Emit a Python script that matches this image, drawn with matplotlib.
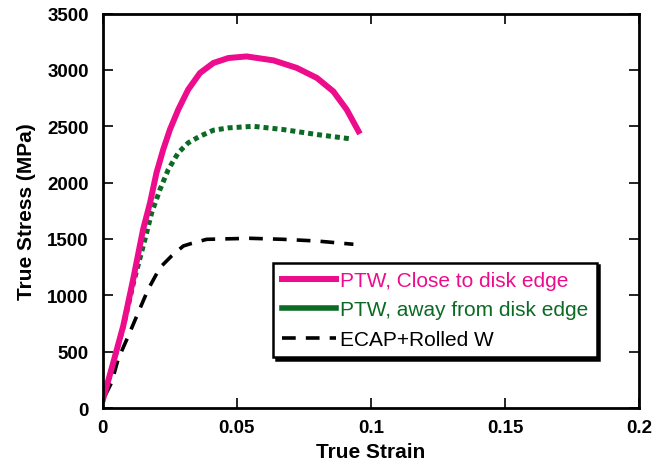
import matplotlib.pyplot as plt
from matplotlib.lines import Line2D

plt.rcParams['font.family'] = ['Liberation Sans', 'DejaVu Sans']

# 曲线数据
strain_edge = [0.0002, 0.004, 0.0077, 0.0114, 0.0151, 0.0177, 0.0201, 0.0226, 0.0251, 0.0282,
               0.0319, 0.0363, 0.0413, 0.0469, 0.0537, 0.0637, 0.0724, 0.0799, 0.086, 0.091, 0.0954]
stress_edge = [80, 405, 729, 1143, 1585, 1822, 2088, 2294, 2471, 2648,
               2826, 2973, 3062, 3106, 3120, 3085, 3018, 2929, 2810, 2648, 2456]

strain_away = [0.0002, 0.004, 0.0077, 0.0116, 0.0158, 0.0183, 0.0214, 0.0245, 0.0282,
               0.0319, 0.0363, 0.0413, 0.0469, 0.0562, 0.0674, 0.0799, 0.0923]
stress_away = [80, 400, 720, 1120, 1497, 1733, 1940, 2117, 2265,
               2353, 2412, 2465, 2486, 2500, 2471, 2427, 2389]

strain_ecap = [0.0009, 0.0034, 0.0058, 0.0096, 0.0133, 0.017, 0.0214, 0.0257, 0.0301,
               0.0332, 0.0388, 0.055, 0.0674, 0.0799, 0.0935]
stress_ecap = [109, 228, 434, 640, 848, 1054, 1246, 1349, 1438,
               1461, 1497, 1506, 1497, 1482, 1453]

labels = ['PTW, Close to disk edge', 'PTW, away from disk edge', 'ECAP+Rolled W']
pink = '#EC0C8C'
green = '#0B6A24'

fig = plt.figure(figsize=(6.64, 4.64), dpi=100)
ax = fig.add_axes([0.1545, 0.1185, 0.808, 0.85])

ax.plot(strain_ecap, stress_ecap, color='black', lw=2.6, dashes=(3.8, 2.8))
ax.plot(strain_away, stress_away, color=green, lw=3.6, dashes=(1, 0.8), dash_capstyle='butt')
ax.plot(strain_edge, stress_edge, color=pink, lw=4.3, solid_joinstyle='round')

ax.set_xlim(0, 0.2)
ax.set_ylim(0, 3500)
ax.set_xticks([0, 0.05, 0.1, 0.15, 0.2])
ax.set_xticklabels(['0', '0.05', '0.1', '0.15', '0.2'])
ax.set_yticks(range(0, 3501, 500))
ax.tick_params(direction='in', length=7, width=1.2, top=True, right=True, labelsize=13.5)
ax.tick_params(axis='x', pad=8)
ax.tick_params(axis='y', pad=10)
for lab in ax.get_xticklabels() + ax.get_yticklabels():
    lab.set_fontweight('bold')
for sp in ax.spines.values():
    sp.set_linewidth(2)

ax.set_xlabel('True Strain', fontsize=15, fontweight='bold', labelpad=4)
ax.set_ylabel('True Stress (MPa)', fontsize=15, fontweight='bold', labelpad=8)

handles = [Line2D([], [], color=pink, lw=4.3),
           Line2D([], [], color=green, lw=4),
           Line2D([], [], color='black', lw=2.6, dashes=(3.8, 2.8))]
leg = ax.legend(handles, labels, loc='lower left', bbox_to_anchor=(0.318, 0.129, 0.603, 0.24),
                mode='expand', fancybox=False, edgecolor='black', fontsize=15,
                handlelength=2.6, handletextpad=0.2, borderpad=0.4, labelspacing=0.5,
                borderaxespad=0, shadow={'color': 'black', 'alpha': 1})
leg.get_frame().set_linewidth(1.8)
for txt, c in zip(leg.get_texts(), [pink, green, 'black']):
    txt.set_color(c)

plt.savefig('out.png', dpi=100)
